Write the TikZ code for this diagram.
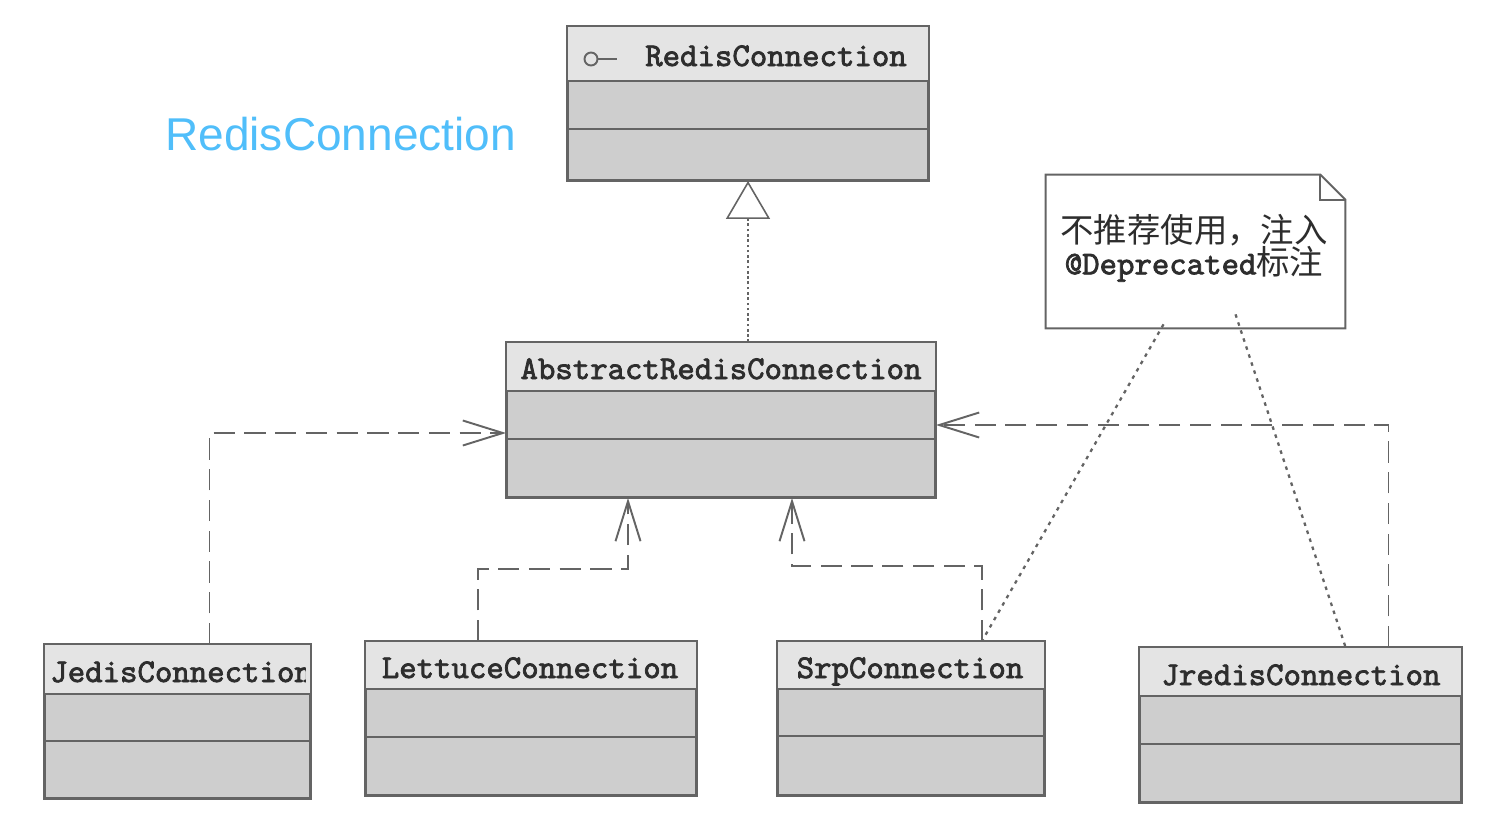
\documentclass[tikz,border=0pt]{standalone}
\usepackage{fontspec}
\setsansfont{Liberation Sans}
\newfontfamily\monofont{lmmono10-regular.otf}[FakeBold=2.2]
\newfontfamily\cjkfont{Noto Sans CJK SC}
\usetikzlibrary{arrows.meta,calc,fit}
\definecolor{bodygray}{RGB}{206,206,206}
\definecolor{headgray}{RGB}{228,228,228}
\definecolor{linegray}{RGB}{100,100,100}
\definecolor{textgray}{RGB}{45,45,45}
\definecolor{labelblue}{RGB}{80,190,250}
\begin{document}
\begin{tikzpicture}[x=0.02cm,y=-0.02cm,
	classbox/.style={draw=linegray, line width=1.1pt, fill=bodygray, inner sep=0pt},
	title/.style={font=\monofont\fontsize{18.9}{22}\selectfont, text=textgray, inner sep=0pt, anchor=base},
	rowline/.style={draw=linegray, line width=1.1pt},
	depend/.style={draw=linegray, line width=1.1pt, dash pattern=on 12pt off 5.5pt, -{Straight Barb[length=0.8cm, width=0.5cm]}},
	realize/.style={draw=linegray, line width=0.9pt, dash pattern=on 1.5pt off 1.5pt, -{Triangle[open, length=0.76cm, width=0.88cm, fill=white]}},
	notelink/.style={draw=linegray, line width=1.3pt, dash pattern=on 2pt off 2.8pt}]
	%\draw[help lines] (0,0) grid[step=100] (1506,836);
	\useasboundingbox (0,0) rectangle (1506,836);
	
	\node[font=\sffamily\fontsize{26.2}{30}\selectfont, text=labelblue, inner sep=0pt, anchor=base west] (label) at (165,150) {RedisConnection};
	
	\node[classbox, fit={(568,27) (928,180)}] (redis) {};
	\node[classbox, fit={(507,343) (935,497)}] (abstract) {};
	\node[classbox, fit={(45,645) (310,798)}] (jedis) {};
	\node[classbox, fit={(366,642) (696,795)}] (lettuce) {};
	\node[classbox, fit={(778,642) (1044,795)}] (srp) {};
	\node[classbox, fit={(1140,648) (1461,802)}] (jredis) {};
	
	\foreach \c/\h/\m in {redis/55/103,abstract/49/97,jedis/50/97,lettuce/48/96,srp/48/95,jredis/49/97}{
		\fill[headgray] (\c.north west) rectangle ($(\c.north east)+(0,\h)$);
		\draw[rowline] ($(\c.north west)+(0,\h)$) -- ($(\c.north east)+(0,\h)$);
		\draw[rowline] ($(\c.north west)+(0,\m)$) -- ($(\c.north east)+(0,\m)$);
		\draw[rowline] (\c.north west) rectangle (\c.south east);
	}
	
	\node[title] (redis-t) at (776,66) {RedisConnection};
	\draw[linegray, line width=1.1pt] (591,59) circle[radius=6.5];
	\draw[linegray, line width=1.1pt] (597.5,59) -- (617,59);
	\node[title] (abstract-t) at (721,379) {AbstractRedisConnection};
	\begin{scope}
		\clip ($(jedis.north west)+(2,0)$) rectangle ($(jedis.south east)+(-5,0)$);
		\node[title, anchor=base west] (jedis-t) at (50,682) {JedisConnection};
	\end{scope}
	\node[title] (lettuce-t) at (530,678) {LettuceConnection};
	\node[title] (srp-t) at (910,678) {SrpConnection};
	\node[title] (jredis-t) at (1301,685) {JredisConnection};
	
	% note
	\node[inner sep=0pt, fit={(1046,175) (1345,328)}] (note) {};
	\fill[white] (note.north west) -- ($(note.north east)+(-25,0)$) -- ($(note.north east)+(0,25)$) -- (note.south east) -- (note.south west) -- cycle;
	\draw[rowline] (note.north west) -- ($(note.north east)+(-25,0)$) -- ($(note.north east)+(0,25)$) -- (note.south east) -- (note.south west) -- cycle;
	\draw[rowline] ($(note.north east)+(-25,0)$) |- ($(note.north east)+(0,25)$);
	\node[text=textgray, align=center, inner sep=0pt] (note-t) at (1194,248)
		{\cjkfont\fontsize{19}{19.5}\selectfont 不推荐使用，注入\\[-1pt]
		 {\monofont\fontsize{18.9}{19.5}\selectfont @Deprecated}\cjkfont\fontsize{19}{19.5}\selectfont 标注};
	
	% relations
	\draw[realize] (redis.south |- abstract.north) -- (redis.south);
	\draw[depend] ($(jedis.north)+(32,0)$) |- ($(abstract.west)+(0,13)$);
	\draw[depend] ($(lettuce.north)+(-53,0)$) -- ++(0,-72) -| ($(abstract.south)+(-93,0)$);
	\draw[depend] ($(srp.north)+(71,0)$) -- ++(0,-75) -| ($(abstract.south)+(71,0)$);
	\draw[depend] ($(jredis.north)+(88,0)$) |- ($(abstract.east)+(0,5)$);
	\draw[notelink] ($(note.south)+(-32,-4)$) -- ($(srp.north)+(71,0)$);
	\draw[notelink] ($(note.south)+(40,-14)$) -- ($(jredis.north)+(45,0)$);
\end{tikzpicture}
\end{document}
